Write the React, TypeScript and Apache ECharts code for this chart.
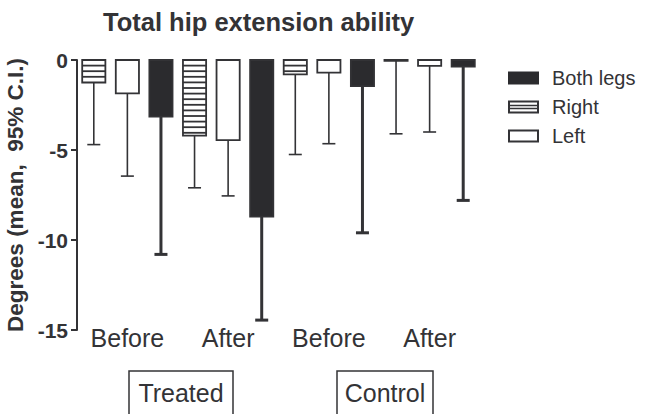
import React, { useEffect, useRef } from "react";
import * as echarts from "echarts";

const groups = ["Treated Before", "Treated After", "Control Before", "Control After"];
const seriesNames = ["Right", "Left", "Both legs"];
const rightMean = [-1.25, -4.2, -0.8, -0.05];
const rightLower = [-4.7, -7.1, -5.25, -4.1];
const leftMean = [-1.85, -4.45, -0.7, -0.33];
const leftLower = [-6.45, -7.55, -4.65, -4.0];
const bothMean = [-3.15, -8.7, -1.45, -0.37];
const bothLower = [-10.8, -14.45, -9.6, -7.8];
const yTicks = { min: -15, max: 0, interval: 5 };
const titleText = "Total hip extension ability";
const yAxisName = "Degrees (mean,  95% C.I.)";
const groupBoxes = ["Treated", "Control"];

const FONT = "'Liberation Sans', Arial, Helvetica, sans-serif";
const INK = "#333336";
const DARK = "#2b2b2e";

function makeRender(kind: number) {
  return (params: any, api: any) => {
    const gi = api.value(0);
    const mean = api.value(1);
    const low = api.value(2);
    const base = api.coord([gi, 0]);
    const band = api.size([1, 0])[0];
    const slot = band / 3;
    const xc = base[0] + (kind - 1) * slot;
    const w = slot * 0.69;
    const y0 = base[1];
    const yM = api.coord([gi, mean])[1];
    const yL = api.coord([gi, low])[1];
    const solid = kind === 2;
    const errW = solid ? 3 : 1.6;
    const children: any[] = [];
    children.push({
      type: "line",
      shape: { x1: xc, y1: yM, x2: xc, y2: yL },
      style: { stroke: INK, lineWidth: errW },
    });
    children.push({
      type: "line",
      shape: { x1: xc - 6.5, y1: yL, x2: xc + 6.5, y2: yL },
      style: { stroke: INK, lineWidth: errW },
    });
    children.push({
      type: "rect",
      shape: { x: xc - w / 2, y: y0, width: w, height: Math.max(yM - y0, 0.5) },
      style: { fill: solid ? DARK : "#ffffff", stroke: INK, lineWidth: 1.8 },
    });
    if (kind === 0) {
      const p = 5.6;
      for (let y = y0 + p; y < yM - 1.5; y += p) {
        children.push({
          type: "line",
          shape: { x1: xc - w / 2, y1: y, x2: xc + w / 2, y2: y },
          style: { stroke: INK, lineWidth: 1.8 },
        });
      }
    }
    return { type: "group", children };
  };
}

export default function App() {
  const ref = useRef<HTMLDivElement>(null);
  useEffect(() => {
    if (!ref.current) return;
    const chart = echarts.init(ref.current, undefined, { renderer: "svg" });
    const means = [rightMean, leftMean, bothMean];
    const lows = [rightLower, leftLower, bothLower];
    const series = seriesNames.map((name, k) => ({
      type: "custom",
      name,
      renderItem: makeRender(k),
      itemStyle: { color: DARK },
      encode: { x: 0, y: [1, 2] },
      data: groups.map((_, i) => [i, means[k][i], lows[k][i]]),
      z: 2,
    }));
    chart.setOption({
      animation: false,
      title: {
        text: titleText,
        left: 103,
        top: 9,
        padding: 0,
        textStyle: { fontSize: 25.5, fontWeight: "bold", color: INK, fontFamily: FONT },
      },
      grid: {
        left: 77,
        right: 165,
        top: 60,
        bottom: 84,
        containLabel: false,
        outerBoundsMode: "none",
      },
      legend: {
        orient: "vertical",
        left: 508,
        top: 68,
        padding: 0,
        itemWidth: 31,
        itemHeight: 13,
        itemGap: 9,
        textStyle: { fontSize: 20, color: INK, fontFamily: FONT, padding: [0, 0, 0, 8] },
        itemStyle: { borderWidth: 0 },
        data: [
          { name: "Both legs", icon: "rect", itemStyle: { color: DARK } },
          {
            name: "Right",
            icon: "path://M0,0H31V13H0Z M2,2V11H29V2Z M2,4.2H29V5.8H2Z M2,7.2H29V8.8H2Z",
            itemStyle: { color: INK },
          },
          { name: "Left", icon: "path://M0,0H31V13H0Z M2,2V11H29V2Z", itemStyle: { color: INK } },
        ],
      },
      xAxis: {
        type: "category",
        data: groups,
        boundaryGap: true,
        axisLine: { show: false },
        axisTick: { show: false },
        splitLine: { show: false },
        axisLabel: {
          formatter: (v: string) => v.split(" ")[1],
          fontSize: 25,
          color: INK,
          fontFamily: FONT,
          margin: 0,
          lineHeight: 16,
        },
      },
      yAxis: {
        type: "value",
        min: yTicks.min,
        max: yTicks.max,
        interval: yTicks.interval,
        name: yAxisName,
        nameLocation: "middle",
        nameGap: 45,
        nameRotate: 90,
        nameTextStyle: { fontSize: 22.5, fontWeight: "bold", color: INK, fontFamily: FONT },
        axisLine: { show: true, lineStyle: { color: INK, width: 2 } },
        axisTick: { show: true, inside: false, length: 6, lineStyle: { color: INK, width: 2 } },
        splitLine: { show: false },
        axisLabel: { fontSize: 21, fontWeight: "bold", color: INK, fontFamily: FONT, margin: 9 },
      },
      graphic: [
        {
          type: "rect",
          x: 129,
          y: 371,
          shape: { x: 0, y: 0, width: 104, height: 60 },
          style: { fill: "none", stroke: INK, lineWidth: 1.5 },
        },
        {
          type: "text",
          x: 181,
          y: 393,
          style: {
            text: groupBoxes[0],
            fontSize: 25,
            fontFamily: FONT,
            fill: INK,
            align: "center",
            verticalAlign: "middle",
            textAlign: "center",
            textVerticalAlign: "middle",
          },
        },
        {
          type: "rect",
          x: 337,
          y: 371,
          shape: { x: 0, y: 0, width: 96, height: 60 },
          style: { fill: "none", stroke: INK, lineWidth: 1.5 },
        },
        {
          type: "text",
          x: 385,
          y: 393,
          style: {
            text: groupBoxes[1],
            fontSize: 25,
            fontFamily: FONT,
            fill: INK,
            align: "center",
            verticalAlign: "middle",
            textAlign: "center",
            textVerticalAlign: "middle",
          },
        },
      ],
      series,
    });
    return () => chart.dispose();
  }, []);
  return (
    <div
      ref={ref}
      style={{ position: "fixed", left: 0, top: 0, width: 645, height: 414, background: "#fff" }}
    />
  );
}
